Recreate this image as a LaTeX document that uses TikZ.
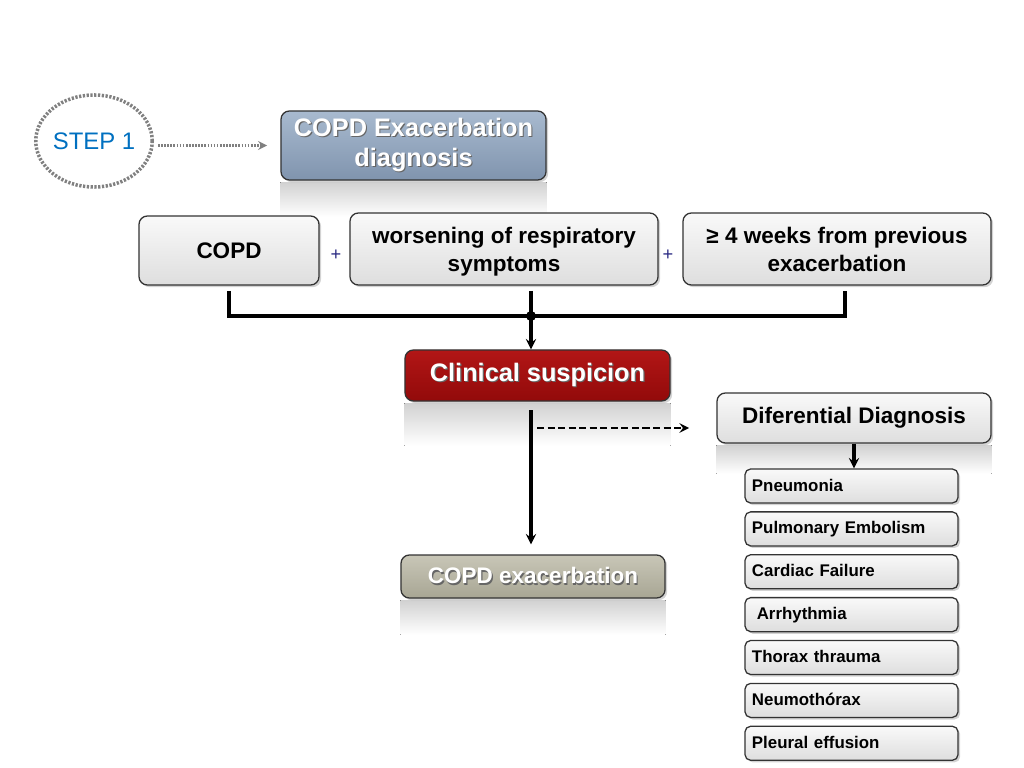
\documentclass[tikz,border=0pt]{standalone}
\usepackage{fontspec}
\setmainfont{Liberation Sans}
\usetikzlibrary{positioning, shadows, backgrounds, shapes.geometric}

\definecolor{stepblue}{RGB}{0,112,192}
\definecolor{plusblue}{RGB}{40,40,130}
\definecolor{boxtop}{RGB}{249,249,249}
\definecolor{boxbot}{RGB}{222,222,222}
\definecolor{diagtop}{RGB}{168,186,207}
\definecolor{diagbot}{RGB}{128,148,174}
\definecolor{susptop}{RGB}{178,22,22}
\definecolor{suspbot}{RGB}{146,10,10}
\definecolor{exactop}{RGB}{200,198,183}
\definecolor{exacbot}{RGB}{168,166,148}

\newcommand{\shtext}[1]{\rlap{\textcolor{black!60}{\hspace{0.8pt}\raisebox{-0.8pt}{#1}}}#1}

\begin{document}
\begin{tikzpicture}[
    x=0.025cm, y=-0.025cm,
    node distance=0.19cm,
    >=stealth,
    box/.style={draw=black!80, line width=0.9pt, rounded corners=6pt, align=center,
        font=\bfseries\fontsize{16}{20}\selectfont,
        drop shadow={opacity=0.35, shadow xshift=1.5pt, shadow yshift=-1.5pt}},
    graybox/.style={box, top color=boxtop, bottom color=boxbot},
    item/.style={graybox, rounded corners=4pt, text width=4.975cm, align=left,
        inner xsep=0.175cm, inner ysep=0pt, text height=0.55cm, text depth=0.3cm,
        font=\bfseries\fontsize{12}{14}\selectfont},
    stepring/.style={ellipse, draw=black!50, line width=2.5pt, dash pattern=on 1.6pt off 1.1pt,
        minimum width=2.55cm, minimum height=2.3cm, inner sep=0pt, text=stepblue,
        font=\fontsize{17}{20}\selectfont},
    plus/.style={text=plusblue, font=\fontsize{13}{15}\selectfont},
    conn/.style={line width=2.2pt, black},
    mirror/.style={top color=black!18, bottom color=white, draw=none}
]
   \useasboundingbox (0,0) rectangle (1024,768);

   % Step and title
   \node[stepring] (step) at (94,141) {STEP 1};
   \node[box, top color=diagtop, bottom color=diagbot, text=white, minimum width=6.625cm,
         minimum height=1.725cm, font=\bfseries\fontsize{18}{21}\selectfont]
         (diag) at (413.5,145.5) {\shtext{COPD Exacerbation}\\\shtext{diagnosis}};

   % Criteria
   \node[graybox, minimum width=4.5cm, minimum height=1.725cm] (copd) at (229,250.5) {COPD};
   \node[graybox, minimum width=7.7cm, minimum height=1.8cm, text depth=0pt] (worse) at (504,249)
         {worsening of respiratory\\symptoms};
   \node[graybox, minimum width=7.7cm, minimum height=1.8cm, text depth=0pt] (weeks) at (837,249)
         {≥ 4 weeks from previous\\exacerbation};
   \node[plus] (plusa) at (336,255) {+};
   \node[plus] (plusb) at (668,255) {+};

   % Suspicion and outcome
   \node[box, top color=susptop, bottom color=suspbot, text=white, minimum width=6.625cm,
         minimum height=1.275cm, font=\bfseries\fontsize{18}{21}\selectfont]
         (susp) at (537.5,375.5) {\shtext{Clinical suspicion}};
   \node[box, top color=exactop, bottom color=exacbot, text=white, minimum width=6.6cm,
         minimum height=1.075cm] (exac) at (533,576.5) {\shtext{COPD exacerbation}};
   \node[graybox, minimum width=6.85cm, minimum height=1.25cm] (diff) at (854,418)
         {Diferential Diagnosis};

   % Differential list
   \node[item] (pneu) at (851.5,486) {Pneumonia};
   \node[item] (embo) [below=of pneu] {Pulmonary Embolism};
   \node[item] (card) [below=of embo] {Cardiac Failure};
   \node[item] (arrh) [below=of card] {\hspace{0.12cm}Arrhythmia};
   \node[item] (thor) [below=of arrh] {Thorax thrauma};
   \node[item] (neum) [below=of thor] {Neumothórax};
   \node[item] (pleu) [below=of neum] {Pleural effusion};

   % Reflections
   \begin{scope}[on background layer]
      \fill[mirror] ([yshift=-1pt]diag.south west) rectangle ([yshift=-0.9cm]diag.south east);
      \fill[mirror] ([yshift=-1pt]susp.south west) rectangle ([yshift=-1.1cm]susp.south east);
      \fill[mirror] ([yshift=-1pt]diff.south west) rectangle ([yshift=-0.75cm]diff.south east);
      \fill[mirror] ([yshift=-1pt]exac.south west) rectangle ([yshift=-0.9cm]exac.south east);
   \end{scope}

   % Connectors
   \coordinate (join) at (531,316);
   \coordinate (dash) at (537,428);
   \draw[->, black!50, line width=1.8pt, dash pattern=on 1.2pt off 1pt]
        ([xshift=0.1cm]step.east |- diag.west) -- ([xshift=-0.33cm]diag.west);
   \draw[conn] ([yshift=-0.13cm]copd.south) |- (join)
        -| ([xshift=0.2cm,yshift=-0.13cm]weeks.south);
   \draw[conn] ([yshift=-0.13cm]join |- worse.south) -- (join);
   \fill (join) circle (5);
   \draw[conn, ->] (join) -- (join |- susp.north);
   \draw[conn, ->] ([yshift=-0.22cm]join |- susp.south) -- ([yshift=0.25cm]join |- exac.north);
   \draw[conn, ->, line width=2pt, dash pattern=on 5pt off 2.5pt] (dash) -- ([xshift=-0.68cm]diff.west |- dash);
   \draw[conn, ->] (diff.south) -- (diff.south |- pneu.north);
\end{tikzpicture}
\end{document}
